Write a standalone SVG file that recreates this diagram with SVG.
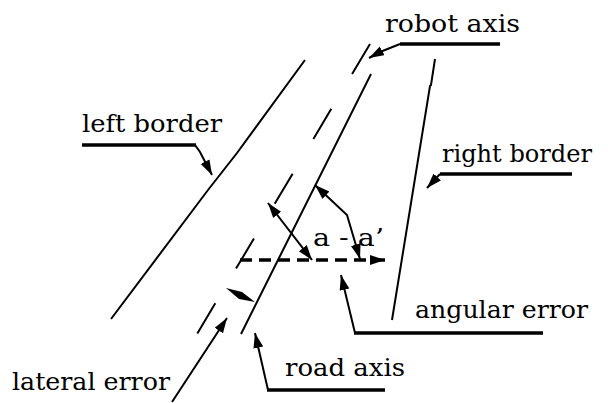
<svg xmlns="http://www.w3.org/2000/svg" width="608" height="403" viewBox="0 0 608 403">
<style>
.ln{fill:none;stroke:#000;stroke-width:2;stroke-linecap:butt;stroke-linejoin:miter}
.ul{fill:none;stroke:#000;stroke-width:3.5}
.lbl{font-family:'DejaVu Serif',serif;font-size:24px;fill:#000}
</style>
<defs>
<marker id="ah" markerUnits="userSpaceOnUse" markerWidth="17" markerHeight="11" refX="15" refY="5" orient="auto-start-reverse" viewBox="0 0 17 11">
<path d="M0,0 L15,5 L0,10 z" fill="#000"/>
</marker>
</defs>
<rect width="608" height="403" fill="#fff"/>
<g id="left-border"><polyline class="ln" points="305,60 237,153 208,190 111,319"/></g>
<g id="right-border"><polyline class="ln" points="435,59 431,85 430,86 392,320"/></g>
<g id="robot-axis"><line class="ln" x1="370" y1="44" x2="197" y2="334" stroke-dasharray="35 40.5"/></g>
<g id="road-axis"><line class="ln" x1="371" y1="74" x2="241" y2="334"/></g>
<g id="reference-line"><line x1="240" y1="260" x2="385" y2="260" stroke="#000" stroke-width="3.5" stroke-dasharray="12 7" marker-end="url(#ah)"/></g>
<g id="connectors">
<line class="ln" x1="268" y1="203" x2="312" y2="260" marker-start="url(#ah)" marker-end="url(#ah)"/>
<polyline class="ln" points="315,185 347,215 360,259" marker-start="url(#ah)" marker-end="url(#ah)"/>
<polygon points="226,288 242,292 255,302 239,299" fill="#000"/>
<polyline class="ln" points="400,44 380,52 369,58" marker-end="url(#ah)"/>
<polyline class="ln" points="195,145 200,152 212,175" marker-end="url(#ah)"/>
<polyline class="ln" points="440,174 427,188" marker-end="url(#ah)"/>
<polyline class="ln" points="355,333 341,275" marker-end="url(#ah)"/>
<polyline class="ln" points="268,390 255,333" marker-end="url(#ah)"/>
<polyline class="ln" points="172,402 227,318" marker-end="url(#ah)"/>
<line class="ul" x1="400" y1="44" x2="500" y2="44"/>
<line class="ul" x1="82" y1="145" x2="196" y2="145"/>
<line class="ul" x1="440" y1="174" x2="572" y2="174"/>
<line class="ul" x1="354" y1="333" x2="543" y2="333"/>
<line class="ul" x1="267" y1="390" x2="385" y2="390"/>
</g>
<g id="labels">
<text class="lbl" x="385" y="32" textLength="135" lengthAdjust="spacingAndGlyphs">robot axis</text>
<text class="lbl" x="82" y="132" textLength="140" lengthAdjust="spacingAndGlyphs">left border</text>
<text class="lbl" x="442" y="162" textLength="150" lengthAdjust="spacingAndGlyphs">right border</text>
<text class="lbl" x="313" y="246" textLength="71" lengthAdjust="spacingAndGlyphs">a - a’</text>
<text class="lbl" x="415" y="318" textLength="173" lengthAdjust="spacingAndGlyphs">angular error</text>
<text class="lbl" x="285" y="376" textLength="120" lengthAdjust="spacingAndGlyphs">road axis</text>
<text class="lbl" x="12" y="390" textLength="158" lengthAdjust="spacingAndGlyphs">lateral error</text>
</g>
</svg>
